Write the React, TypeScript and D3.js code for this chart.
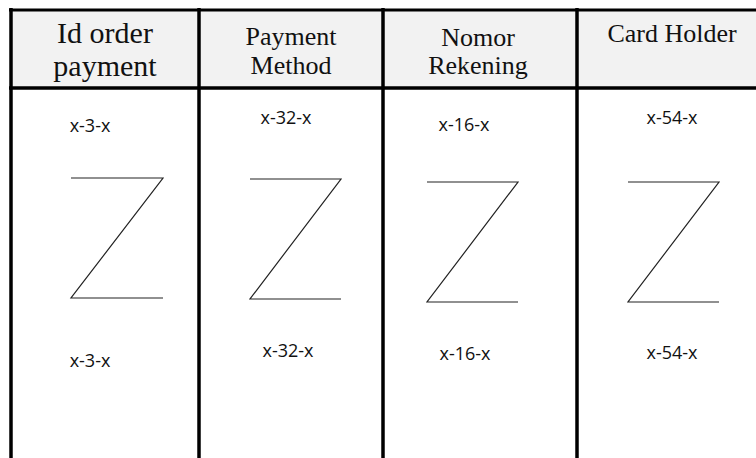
import * as d3 from 'd3';

// header labels, one entry per column (lines of text)
const headers: string[][] = [
  ['Id order', 'payment'],
  ['Payment', 'Method'],
  ['Nomor', 'Rekening'],
  ['Card Holder'],
];
const topValues = ['x-3-x', 'x-32-x', 'x-16-x', 'x-54-x'];
const bottomValues = ['x-3-x', 'x-32-x', 'x-16-x', 'x-54-x'];

// layout (pixels)
const W = 756;
const H = 458;
const colEdges = [11, 199, 383, 577, 760];
const headerTop = 10;
const headerBottom = 88;
const headerSize = [30, 26, 26, 26];
const headerBase = [[43, 76], [45, 74], [46, 74], [42]];
const topLabel = [{ x: 90, y: 132 }, { x: 286, y: 124 }, { x: 464, y: 131 }, { x: 672, y: 124 }];
const botLabel = [{ x: 90, y: 367 }, { x: 288, y: 357 }, { x: 465, y: 360 }, { x: 672, y: 359 }];
const zBoxes = [
  { x0: 71, x1: 163, y0: 178, y1: 298 },
  { x0: 250, x1: 341, y0: 179, y1: 299 },
  { x0: 427, x1: 518, y0: 182, y1: 302 },
  { x0: 628, x1: 719, y0: 182, y1: 302 },
];

const zPath = d3.line<[number, number]>();

export default function App() {
  const colIdx = d3.range(headers.length);
  return (
    <svg width={W} height={H} style={{ position: 'absolute', left: 0, top: 0, background: '#fff' }}>
      {/* header band */}
      <rect x={colEdges[0]} y={headerTop} width={W - colEdges[0]} height={headerBottom - headerTop} fill="#f2f2f2" />
      <line x1={colEdges[0] - 2} x2={W} y1={headerTop} y2={headerTop} stroke="#000" strokeWidth={3} />
      <line x1={colEdges[0] - 2} x2={W} y1={headerBottom} y2={headerBottom} stroke="#000" strokeWidth={3.5} />
      {colEdges.slice(0, 4).map((x, i) => (
        <line key={i} x1={x} x2={x} y1={8} y2={H} stroke="#000" strokeWidth={3.5} />
      ))}

      {colIdx.map((i) => {
        const cx = (colEdges[i] + Math.min(colEdges[i + 1], W)) / 2;
        return (
          <g key={i} fontFamily="'Liberation Serif', 'Times New Roman', serif" fill="#111" textAnchor="middle">
            {headers[i].map((t, j) => (
              <text key={j} x={i === 3 ? 672 : cx + (i === 2 ? -2 : 0)} y={headerBase[i][j]} fontSize={headerSize[i]}>{t}</text>
            ))}
          </g>
        );
      })}

      <g fontFamily="'Open Sans', 'Noto Sans', sans-serif" fontSize={18} fill="#111" textAnchor="middle">
        {topValues.map((v, i) => (
          <text key={'t' + i} x={topLabel[i].x} y={topLabel[i].y}>{v}</text>
        ))}
        {bottomValues.map((v, i) => (
          <text key={'b' + i} x={botLabel[i].x} y={botLabel[i].y}>{v}</text>
        ))}
      </g>

      {zBoxes.map((b, i) => (
        <path
          key={i}
          d={zPath([[b.x0, b.y0], [b.x1, b.y0], [b.x0, b.y1], [b.x1, b.y1]]) || ''}
          fill="none"
          stroke="#222"
          strokeWidth={1.2}
        />
      ))}
    </svg>
  );
}
